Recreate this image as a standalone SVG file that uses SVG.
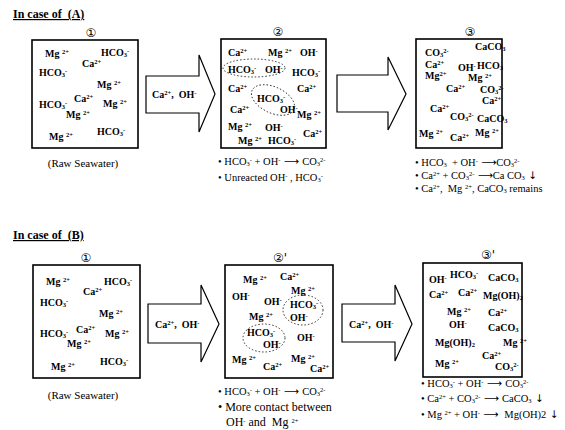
<svg xmlns="http://www.w3.org/2000/svg" width="565" height="430" viewBox="0 0 565 430">
<style>
text{white-space:pre}
.ion{font-family:"Liberation Serif",serif;font-weight:bold;font-size:10px;fill:#000}
.s{font-size:6.5px}
.eq{font-family:"Liberation Serif",serif;font-size:10.5px;fill:#000}
.lbl{font-family:"Liberation Serif",serif;font-size:11px;fill:#000}
.ttl{font-family:"Liberation Serif",serif;font-weight:bold;font-size:12px;text-decoration:underline;fill:#000}
.num{font-family:"DejaVu Sans","Noto Sans CJK JP",sans-serif;font-size:12px;fill:#000;text-anchor:middle}
.box{fill:#fff;stroke:#000;stroke-width:1.6}
.arr{fill:#fff;stroke:#000;stroke-width:1.2;stroke-linejoin:miter}
.ell{fill:none;stroke:#000;stroke-width:0.8;stroke-dasharray:1.5 2}
.ar{font-family:"DejaVu Sans",sans-serif}
</style>
<rect width="565" height="430" fill="#fff"/>

<text class="ttl" x="13" y="18">In case of  (A)</text>
<text class="ttl" x="13" y="239">In case of  (B)</text>

<g id="connectors">
<polygon class="arr" points="146,76 199,76 199,55 215,94 199,132 199,113 146,113"/>
<text class="ion" x="152" y="98">Ca<tspan class="s" dy="-3.5">2+</tspan><tspan dy="3.5">,  OH</tspan><tspan class="s" dy="-3.5">-</tspan></text>
<polygon class="arr" points="337,75 388,75 388,57 406,94 388,130 388,112 337,112"/>
<polygon class="arr" points="148,304 201,304 201,285 219,324 201,362 201,343 148,343"/>
<text class="ion" x="155" y="328">Ca<tspan class="s" dy="-3.5">2+</tspan><tspan dy="3.5">,  OH</tspan><tspan class="s" dy="-3.5">-</tspan></text>
<polygon class="arr" points="342,304 395,304 395,285 412,324 395,361 395,342 342,342"/>
<text class="ion" x="349" y="328">Ca<tspan class="s" dy="-3.5">2+</tspan><tspan dy="3.5">,  OH</tspan><tspan class="s" dy="-3.5">-</tspan></text>
</g>

<g id="a1">
<rect class="box" x="32" y="40" width="106" height="108"/>
<text class="num" x="91" y="37">①</text>
<text class="ion" x="45" y="57">Mg <tspan class="s" dy="-3.5">2+</tspan></text>
<text class="ion" x="101" y="56">HCO<tspan class="s" dy="1">3</tspan><tspan class="s" dy="-4.5">-</tspan></text>
<text class="ion" x="82" y="67">Ca<tspan class="s" dy="-3.5">2+</tspan></text>
<text class="ion" x="39" y="76">HCO<tspan class="s" dy="1">3</tspan><tspan class="s" dy="-4.5">-</tspan></text>
<text class="ion" x="97" y="88">Mg <tspan class="s" dy="-3.5">2+</tspan></text>
<text class="ion" x="74" y="102">Ca<tspan class="s" dy="-3.5">2+</tspan></text>
<text class="ion" x="39" y="108">HCO<tspan class="s" dy="1">3</tspan><tspan class="s" dy="-4.5">-</tspan></text>
<text class="ion" x="103" y="107">Mg <tspan class="s" dy="-3.5">2+</tspan></text>
<text class="ion" x="66" y="118">Mg <tspan class="s" dy="-3.5">2+</tspan></text>
<text class="ion" x="49" y="140">Mg <tspan class="s" dy="-3.5">2+</tspan></text>
<text class="ion" x="97" y="135">HCO<tspan class="s" dy="1">3</tspan><tspan class="s" dy="-4.5">-</tspan></text>
<text class="lbl" x="83" y="167" text-anchor="middle">(Raw Seawater)</text>
</g>

<g id="a2">
<rect class="box" x="221" y="39" width="105" height="109"/>
<text class="num" x="278" y="36">②</text>
<ellipse class="ell" cx="254" cy="68" rx="31" ry="9"/>
<ellipse class="ell" cx="273" cy="100" rx="23" ry="13" transform="rotate(25 273 100)"/>
<text class="ion" x="228" y="56">Ca<tspan class="s" dy="-3.5">2+</tspan></text>
<text class="ion" x="268" y="56">Mg <tspan class="s" dy="-3.5">2+</tspan></text>
<text class="ion" x="300" y="56">OH<tspan class="s" dy="-3.5">-</tspan></text>
<text class="ion" x="228" y="73">HCO<tspan class="s" dy="1">3</tspan><tspan class="s" dy="-4.5">-</tspan></text>
<text class="ion" x="265" y="73">OH<tspan class="s" dy="-3.5">-</tspan></text>
<text class="ion" x="292" y="76">HCO<tspan class="s" dy="1">3</tspan><tspan class="s" dy="-4.5">-</tspan></text>
<text class="ion" x="228" y="92">Ca<tspan class="s" dy="-3.5">2+</tspan></text>
<text class="ion" x="297" y="92">Ca<tspan class="s" dy="-3.5">2+</tspan></text>
<text class="ion" x="257" y="102">HCO<tspan class="s" dy="1">3</tspan><tspan class="s" dy="-4.5">-</tspan></text>
<text class="ion" x="230" y="113">Ca<tspan class="s" dy="-3.5">2+</tspan></text>
<text class="ion" x="280" y="113">OH<tspan class="s" dy="-3.5">-</tspan></text>
<text class="ion" x="297" y="118">Mg <tspan class="s" dy="-3.5">2+</tspan></text>
<text class="ion" x="228" y="130">Mg <tspan class="s" dy="-3.5">2+</tspan></text>
<text class="ion" x="265" y="131">OH<tspan class="s" dy="-3.5">-</tspan></text>
<text class="ion" x="238" y="144">Mg <tspan class="s" dy="-3.5">2+</tspan></text>
<text class="ion" x="268" y="144">HCO<tspan class="s" dy="1">3</tspan><tspan class="s" dy="-4.5">-</tspan></text>
<text class="ion" x="303" y="137">Ca<tspan class="s" dy="-3.5">2+</tspan></text>
<text class="eq" x="218" y="165">• HCO<tspan class="s" dy="1">3</tspan><tspan class="s" dy="-4.5">-</tspan><tspan dy="3.5"> + OH</tspan><tspan class="s" dy="-3.5">-</tspan><tspan class="ar" dy="3.5"> ⟶ </tspan><tspan>CO</tspan><tspan class="s" dy="1">3</tspan><tspan class="s" dy="-4.5">2-</tspan></text>
<text class="eq" x="218" y="181">• Unreacted OH<tspan class="s" dy="-3.5">-</tspan><tspan dy="3.5"> , HCO</tspan><tspan class="s" dy="1">3</tspan><tspan class="s" dy="-4.5">-</tspan></text>
</g>

<g id="a3">
<rect class="box" x="416" y="39" width="86" height="109"/>
<text class="num" x="470" y="36">③</text>
<text class="ion" x="425" y="56">CO<tspan class="s" dy="1">3</tspan><tspan class="s" dy="-4.5">2-</tspan></text>
<text class="ion" x="475" y="50">CaCO<tspan class="s" dy="1">3</tspan></text>
<text class="ion" x="425" y="68">Ca<tspan class="s" dy="-3.5">2+</tspan></text>
<text class="ion" x="458" y="71">OH<tspan class="s" dy="-3.5">-</tspan></text>
<text class="ion" x="477" y="69">HCO<tspan class="s" dy="1">3</tspan></text>
<text class="ion" x="425" y="79">Mg<tspan class="s" dy="-3.5">2+</tspan></text>
<text class="ion" x="468" y="81">Mg <tspan class="s" dy="-3.5">2+</tspan></text>
<text class="ion" x="446" y="92">Ca<tspan class="s" dy="-3.5">2+</tspan></text>
<text class="ion" x="480" y="93">CO<tspan class="s" dy="1">3</tspan><tspan class="s" dy="-4.5">2-</tspan></text>
<text class="ion" x="482" y="104">Ca<tspan class="s" dy="-3.5">2+</tspan></text>
<text class="ion" x="430" y="112">Ca<tspan class="s" dy="-3.5">2+</tspan></text>
<text class="ion" x="450" y="120">CO<tspan class="s" dy="1">3</tspan><tspan class="s" dy="-4.5">2-</tspan></text>
<text class="ion" x="477" y="122">CaCO<tspan class="s" dy="1">3</tspan></text>
<text class="ion" x="419" y="137">Mg <tspan class="s" dy="-3.5">2+</tspan></text>
<text class="ion" x="450" y="141">Ca<tspan class="s" dy="-3.5">2+</tspan></text>
<text class="ion" x="475" y="136">Mg <tspan class="s" dy="-3.5">2+</tspan></text>
<text class="eq" x="415" y="166">• HCO<tspan class="s" dy="1">3</tspan><tspan dy="-1">  + OH</tspan><tspan class="s" dy="-3.5">-</tspan><tspan class="ar" dy="3.5"> ⟶</tspan><tspan>CO</tspan><tspan class="s" dy="1">3</tspan><tspan class="s" dy="-4.5">2-</tspan></text>
<text class="eq" x="415" y="179">• Ca<tspan class="s" dy="-3.5">2+</tspan><tspan dy="3.5"> + CO</tspan><tspan class="s" dy="1">3</tspan><tspan class="s" dy="-4.5">2-</tspan><tspan class="ar" dy="3.5"> ⟶</tspan><tspan>Ca CO</tspan><tspan class="s" dy="1">3</tspan><tspan class="ar" dy="-1"> ↓</tspan></text>
<text class="eq" x="415" y="192">• Ca<tspan class="s" dy="-3.5">2+</tspan><tspan dy="3.5">,  Mg </tspan><tspan class="s" dy="-3.5">2+</tspan><tspan dy="3.5">, CaCO</tspan><tspan class="s" dy="1">3</tspan><tspan dy="-1"> remains</tspan></text>
</g>

<g id="b1">
<rect class="box" x="33" y="265" width="107" height="113"/>
<text class="num" x="86" y="262">①</text>
<text class="ion" x="46" y="285">Mg <tspan class="s" dy="-3.5">2+</tspan></text>
<text class="ion" x="104" y="285">HCO<tspan class="s" dy="1">3</tspan><tspan class="s" dy="-4.5">-</tspan></text>
<text class="ion" x="83" y="295">Ca<tspan class="s" dy="-3.5">2+</tspan></text>
<text class="ion" x="40" y="306">HCO<tspan class="s" dy="1">3</tspan><tspan class="s" dy="-4.5">-</tspan></text>
<text class="ion" x="99" y="317">Mg <tspan class="s" dy="-3.5">2+</tspan></text>
<text class="ion" x="76" y="333">Ca<tspan class="s" dy="-3.5">2+</tspan></text>
<text class="ion" x="40" y="337">HCO<tspan class="s" dy="1">3</tspan><tspan class="s" dy="-4.5">-</tspan></text>
<text class="ion" x="105" y="337">Mg <tspan class="s" dy="-3.5">2+</tspan></text>
<text class="ion" x="67" y="347">Mg <tspan class="s" dy="-3.5">2+</tspan></text>
<text class="ion" x="51" y="370">Mg <tspan class="s" dy="-3.5">2+</tspan></text>
<text class="ion" x="100" y="365">HCO<tspan class="s" dy="1">3</tspan><tspan class="s" dy="-4.5">-</tspan></text>
<text class="lbl" x="83" y="399" text-anchor="middle">(Raw Seawater)</text>
</g>

<g id="b2">
<rect class="box" x="225" y="265" width="108" height="113"/>
<text class="num" x="280" y="262">②'</text>
<ellipse class="ell" cx="303" cy="310" rx="20" ry="15"/>
<ellipse class="ell" cx="264" cy="338" rx="21" ry="14"/>
<text class="ion" x="243" y="283">Mg <tspan class="s" dy="-3.5">2+</tspan></text>
<text class="ion" x="280" y="280">Ca<tspan class="s" dy="-3.5">2+</tspan></text>
<text class="ion" x="232" y="300">OH<tspan class="s" dy="-3.5">-</tspan></text>
<text class="ion" x="264" y="305">OH<tspan class="s" dy="-3.5">-</tspan></text>
<text class="ion" x="291" y="294">Mg <tspan class="s" dy="-3.5">2+</tspan></text>
<text class="ion" x="290" y="308">HCO<tspan class="s" dy="1">3</tspan><tspan class="s" dy="-4.5">-</tspan></text>
<text class="ion" x="290" y="321">OH<tspan class="s" dy="-3.5">-</tspan></text>
<text class="ion" x="249" y="320">Mg <tspan class="s" dy="-3.5">2+</tspan></text>
<text class="ion" x="247" y="336">HCO<tspan class="s" dy="1">3</tspan><tspan class="s" dy="-4.5">-</tspan></text>
<text class="ion" x="263" y="348">OH<tspan class="s" dy="-3.5">-</tspan></text>
<text class="ion" x="297" y="341">OH<tspan class="s" dy="-3.5">-</tspan></text>
<text class="ion" x="232" y="363">Mg <tspan class="s" dy="-3.5">2+</tspan></text>
<text class="ion" x="263" y="370">Ca<tspan class="s" dy="-3.5">2+</tspan></text>
<text class="ion" x="291" y="362">Mg <tspan class="s" dy="-3.5">2+</tspan></text>
<text class="ion" x="310" y="372">Ca<tspan class="s" dy="-3.5">2+</tspan></text>
<text class="eq" x="218" y="395">• HCO<tspan class="s" dy="1">3</tspan><tspan class="s" dy="-4.5">-</tspan><tspan dy="3.5"> + OH</tspan><tspan class="s" dy="-3.5">-</tspan><tspan class="ar" dy="3.5"> ⟶ </tspan><tspan>CO</tspan><tspan class="s" dy="1">3</tspan><tspan class="s" dy="-4.5">2-</tspan></text>
<text class="eq" x="218" y="411" style="font-size:12px">• More contact between</text>
<text class="eq" x="226" y="426" style="font-size:12px">OH<tspan class="s" dy="-3.5">-</tspan><tspan dy="3.5"> and  Mg </tspan><tspan class="s" dy="-3.5">2+</tspan></text>
</g>

<g id="b3">
<rect class="box" x="423" y="263" width="99" height="114"/>
<text class="num" x="488" y="259">③'</text>
<text class="ion" x="429" y="283">OH<tspan class="s" dy="-3.5">-</tspan></text>
<text class="ion" x="450" y="278">HCO<tspan class="s" dy="1">3</tspan><tspan class="s" dy="-4.5">-</tspan></text>
<text class="ion" x="488" y="281">CaCO<tspan class="s" dy="1">3</tspan></text>
<text class="ion" x="429" y="298">Ca<tspan class="s" dy="-3.5">2+</tspan></text>
<text class="ion" x="458" y="296">Ca<tspan class="s" dy="-3.5">2+</tspan></text>
<text class="ion" x="483" y="299">Mg(OH)<tspan class="s" dy="1">2</tspan></text>
<text class="ion" x="447" y="315">Mg <tspan class="s" dy="-3.5">2+</tspan></text>
<text class="ion" x="488" y="316">Ca<tspan class="s" dy="-3.5">2+</tspan></text>
<text class="ion" x="449" y="328">OH<tspan class="s" dy="-3.5">-</tspan></text>
<text class="ion" x="488" y="331">CaCO<tspan class="s" dy="1">3</tspan></text>
<text class="ion" x="435" y="346">Mg(OH)<tspan class="s" dy="1">2</tspan></text>
<text class="ion" x="503" y="346">Mg <tspan class="s" dy="-3.5">2+</tspan></text>
<text class="ion" x="482" y="359">Ca<tspan class="s" dy="-3.5">2+</tspan></text>
<text class="ion" x="435" y="367">Mg <tspan class="s" dy="-3.5">2+</tspan></text>
<text class="ion" x="495" y="370">CO<tspan class="s" dy="1">3</tspan><tspan class="s" dy="-4.5">2-</tspan></text>
<text class="eq" x="421" y="387">• HCO<tspan class="s" dy="1">3</tspan><tspan class="s" dy="-4.5">-</tspan><tspan dy="3.5"> + OH</tspan><tspan class="s" dy="-3.5">-</tspan><tspan class="ar" dy="3.5"> ⟶ </tspan><tspan>CO</tspan><tspan class="s" dy="1">3</tspan><tspan class="s" dy="-4.5">2-</tspan></text>
<text class="eq" x="421" y="402">• Ca<tspan class="s" dy="-3.5">2+</tspan><tspan dy="3.5"> + CO</tspan><tspan class="s" dy="1">3</tspan><tspan class="s" dy="-4.5">2-</tspan><tspan class="ar" dy="3.5"> ⟶ </tspan><tspan>CaCO</tspan><tspan class="s" dy="1">3</tspan><tspan class="ar" dy="-1"> ↓</tspan></text>
<text class="eq" x="421" y="418">• Mg <tspan class="s" dy="-3.5">2+</tspan><tspan dy="3.5"> + OH</tspan><tspan class="s" dy="-3.5">-</tspan><tspan class="ar" dy="3.5"> ⟶ </tspan><tspan> Mg(OH)2</tspan><tspan class="ar"> ↓</tspan></text>
</g>
</svg>
